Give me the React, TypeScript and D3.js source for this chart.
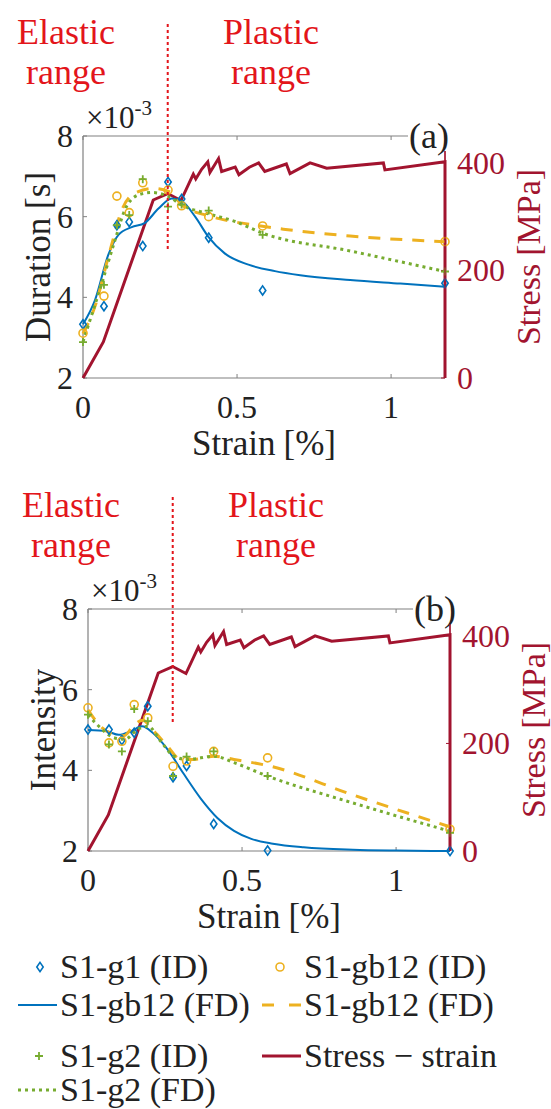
import React from 'react';
import * as d3 from 'd3';

// ---- shared strain axis -------------------------------------------------
const xTicks = [0, 0.5, 1];
const yTicks = [2, 4, 6, 8];
const stressTicks = [0, 200, 400];

// strain positions of the individual measurements (ID markers)
const strainID = [0, 0.068, 0.11, 0.15, 0.194, 0.276, 0.32, 0.408, 0.583, 1.175];

// ---- (a) duration [x10^-3 s] --------------------------------------------
const g1IDa = [3.33, 3.78, 5.79, 5.87, 5.27, 6.86, 6.44, 5.48, 4.17, 4.35];
const gb12IDa = [3.11, 4.03, 6.51, 6.1, 6.84, 6.66, 6.27, 6.0, 5.77, 5.38];
const g2IDa = [2.89, 4.31, 5.79, 6.04, 6.93, 6.25, 6.3, 6.15, 5.55, 4.64];

const g1FDaStrain = [0, 0.039, 0.082, 0.115, 0.158, 0.2, 0.245, 0.288, 0.32, 0.364, 0.407, 0.46, 0.537, 0.623, 0.705, 0.867, 1.03, 1.175];
const g1FDa = [3.33, 3.93, 5.05, 5.55, 5.74, 5.84, 6.2, 6.45, 6.39, 6.0, 5.5, 5.09, 4.81, 4.65, 4.55, 4.43, 4.34, 4.26];

const gb12FDaStrain = [0, 0.04, 0.082, 0.1, 0.125, 0.173, 0.23, 0.28, 0.32, 0.407, 0.472, 0.558, 0.65, 0.867, 1.175];
const gb12FDa = [3.1, 3.8, 5.0, 5.5, 6.15, 6.6, 6.7, 6.62, 6.3, 6.02, 5.9, 5.79, 5.69, 5.52, 5.38];

const g2FDaStrain = [0, 0.061, 0.104, 0.136, 0.18, 0.223, 0.277, 0.32, 0.407, 0.494, 0.58, 0.867, 1.175];
const g2FDa = [2.9, 4.35, 5.42, 6.17, 6.54, 6.6, 6.5, 6.29, 6.07, 5.88, 5.6, 5.15, 4.64];

// ---- (b) intensity [x10^-3] ---------------------------------------------
const g1IDb = [5.01, 5.01, 4.75, 4.93, 5.59, 3.83, 4.11, 2.67, 2.01, 2.0];
const gb12IDb = [5.55, 4.68, 4.72, 5.63, 5.3, 4.1, 4.23, 4.47, 4.31, 2.54];
const g2IDb = [5.38, 4.64, 4.47, 5.52, 5.22, 3.86, 4.34, 4.47, 3.86, 2.45];

const g1FDbStrain = [0, 0.06, 0.1, 0.14, 0.175, 0.21, 0.26, 0.31, 0.366, 0.42, 0.474, 0.53, 0.6, 0.7, 0.86, 1.0, 1.175];
const g1FDb = [5.0, 4.97, 4.88, 4.97, 5.09, 4.93, 4.5, 3.92, 3.3, 2.82, 2.5, 2.3, 2.18, 2.09, 2.03, 2.01, 2.0];

const gb12FDbStrain = [0, 0.041, 0.084, 0.117, 0.149, 0.177, 0.214, 0.258, 0.301, 0.344, 0.409, 0.474, 0.593, 0.856, 1.175];
const gb12FDb = [5.5, 5.09, 4.89, 4.86, 5.12, 5.24, 4.97, 4.6, 4.27, 4.27, 4.35, 4.27, 4.1, 3.4, 2.6];

const g2FDbStrain = [0, 0.041, 0.084, 0.12, 0.16, 0.195, 0.236, 0.279, 0.323, 0.409, 0.474, 0.582, 0.856, 1.175];
const g2FDb = [5.38, 5.05, 4.81, 4.77, 5.01, 5.09, 4.72, 4.35, 4.27, 4.35, 4.19, 3.86, 3.2, 2.49];

// ---- stress-strain curve [MPa] ------------------------------------------
const ssStrain = [0, 0.066, 0.228, 0.275, 0.318, 0.358, 0.366, 0.385, 0.405, 0.412, 0.44, 0.45, 0.494, 0.506, 0.54, 0.57, 0.59, 0.66, 0.672, 0.737, 0.791, 0.975, 0.98, 1.175, 1.175];
const ssStress = [0, 67, 331, 343, 330, 379, 370, 388, 402, 382, 408, 384, 392, 378, 392, 400, 384, 398, 380, 400, 390, 400, 387, 402, 0];

// yield point separating the elastic and plastic ranges
const yieldStrain = 0.275;

const BLUE = '#0072BD';
const ORANGE = '#EDB120';
const GREEN = '#77AC30';
const DARKRED = '#A2142F';
const ANNOT = '#E3151B';
const FONT = "'Liberation Serif', 'Times New Roman', Tinos, 'DejaVu Serif', serif";

const W = 362;
const H = 242;

type Series = { strain: number[]; values: number[] };

type PanelProps = {
  left: number;
  top: number;
  ylabel: string;
  tag: string;
  g1ID: number[];
  gb12ID: number[];
  g2ID: number[];
  g1FD: Series;
  gb12FD: Series;
  g2FD: Series;
};

const diamond = 'M0,-4.6L3.2,0L0,4.6L-3.2,0Z';

function Panel(p: PanelProps) {
  const x = d3.scaleLinear().domain([0, 1.175]).range([p.left, p.left + W]);
  const y = d3.scaleLinear().domain([2, 8]).range([p.top + H, p.top]);
  const ys = d3.scaleLinear().domain([0, 450]).range([p.top + H, p.top]);
  const right = p.left + W;
  const bottom = p.top + H;

  const fdLine = (s: Series) =>
    d3.line<number>()
      .x((_, i) => x(s.strain[i]))
      .y((v) => y(v))
      .curve(d3.curveMonotoneX)(s.values) as string;

  const ssLine = d3.line<number>()
    .x((_, i) => x(ssStrain[i]))
    .y((v) => ys(v))(ssStress) as string;

  return (
    <g>
      {/* elastic / plastic annotation */}
      <text x={p.left - 17} y={p.top - 92} fontSize={36} fill={ANNOT} textAnchor="middle">Elastic</text>
      <text x={p.left - 17} y={p.top - 52} fontSize={36} fill={ANNOT} textAnchor="middle">range</text>
      <text x={p.left + 188} y={p.top - 92} fontSize={36} fill={ANNOT} textAnchor="middle">Plastic</text>
      <text x={p.left + 188} y={p.top - 52} fontSize={36} fill={ANNOT} textAnchor="middle">range</text>

      {/* axes box */}
      <line x1={p.left} y1={p.top} x2={p.left} y2={bottom} stroke="#808080" strokeWidth={1.2} />
      <line x1={p.left} y1={bottom} x2={right} y2={bottom} stroke="#808080" strokeWidth={1.2} />
      <line x1={p.left} y1={p.top} x2={right} y2={p.top} stroke="#808080" strokeWidth={1.2} />
      <line x1={right} y1={p.top} x2={right} y2={bottom} stroke={DARKRED} strokeWidth={1.2} />

      {xTicks.map((t) => (
        <g key={'x' + t}>
          <line x1={x(t)} x2={x(t)} y1={bottom} y2={bottom - 4} stroke="#808080" />
          <line x1={x(t)} x2={x(t)} y1={p.top} y2={p.top + 4} stroke="#808080" />
          <text x={x(t)} y={bottom + 40} fontSize={32} textAnchor="middle" fill="#222">{t}</text>
        </g>
      ))}
      {yTicks.map((t) => (
        <g key={'y' + t}>
          <line x1={p.left} x2={p.left + 4} y1={y(t)} y2={y(t)} stroke="#808080" />
          <text x={p.left - 10} y={y(t) + 11} fontSize={32} textAnchor="end" fill="#222">{t}</text>
        </g>
      ))}
      {stressTicks.map((t) => (
        <g key={'s' + t}>
          <line x1={right} x2={right - 4} y1={ys(t)} y2={ys(t)} stroke={DARKRED} />
          <text x={right + 12} y={ys(t) + 11} fontSize={32} textAnchor="start" fill={DARKRED}>{t}</text>
        </g>
      ))}

      {/* exponent */}
      <text x={p.left + 3} y={p.top - 8} fontSize={31} fill="#222">
        ×10<tspan fontSize={21} dy={-13}>-3</tspan>
      </text>

      {/* axis titles */}
      <text transform={`translate(${p.left - 45},${p.top + H / 2}) rotate(-90)`} fontSize={35} textAnchor="middle" dominantBaseline="central" fill="#222">{p.ylabel}</text>
      <text transform={`translate(${right + 83},${p.top + H / 2}) rotate(-90)`} fontSize={34} textAnchor="middle" dominantBaseline="central" fill={DARKRED}>
        Stress<tspan dx={8}>[MPa]</tspan>
      </text>
      <text x={p.left + W / 2} y={bottom + 77} fontSize={35} textAnchor="middle" fill="#222">
        Strain<tspan dx={8}>[%]</tspan>
      </text>

      {/* stress-strain */}
      <path d={ssLine} fill="none" stroke={DARKRED} strokeWidth={3} strokeLinejoin="miter" />

      {/* fitted distributions */}
      <path d={fdLine(p.g1FD)} fill="none" stroke={BLUE} strokeWidth={2} />
      <path d={fdLine(p.gb12FD)} fill="none" stroke={ORANGE} strokeWidth={3} strokeDasharray="12 10" />
      <path d={fdLine(p.g2FD)} fill="none" stroke={GREEN} strokeWidth={3} strokeDasharray="3 4" />

      {/* individual measurements */}
      {strainID.map((s, i) => (
        <g key={'m' + i}>
          <path d={diamond} transform={`translate(${x(s)},${y(p.g1ID[i])})`} fill="none" stroke={BLUE} strokeWidth={1.6} />
          <circle cx={x(s)} cy={y(p.gb12ID[i])} r={4} fill="none" stroke={ORANGE} strokeWidth={1.6} />
          <path d="M-4,0H4M0,-4V4" transform={`translate(${x(s)},${y(p.g2ID[i])})`} stroke={GREEN} strokeWidth={1.8} />
        </g>
      ))}

      {/* yield marker */}
      <line x1={x(yieldStrain)} x2={x(yieldStrain)} y1={y(5.2)} y2={y(10.8)} stroke={ANNOT} strokeWidth={2} strokeDasharray="3 3" />

      {/* panel tag */}
      <rect x={right - 37} y={p.top - 17} width={45} height={32} fill="#fff" />
      <text x={right - 36} y={p.top + 12} fontSize={36} fill="#222">{p.tag}</text>
      <line x1={right} y1={p.top + 15} x2={right} y2={bottom} stroke={DARKRED} strokeWidth={1.2} />
    </g>
  );
}

function Legend() {
  const rows = [967, 1005, 1056, 1090];
  const fs = 34;
  const t = (xx: number, yy: number, s: string, c = '#222') => (
    <text x={xx} y={yy + 11} fontSize={fs} fill={c}>{s}</text>
  );
  return (
    <g>
      <path d={diamond} transform={`translate(40,${rows[0]})`} fill="none" stroke={BLUE} strokeWidth={1.6} />
      {t(60, rows[0], 'S1-g1 (ID)')}
      <circle cx={280} cy={rows[0]} r={4} fill="none" stroke={ORANGE} strokeWidth={1.6} />
      {t(304, rows[0], 'S1-gb12 (ID)')}

      <line x1={18} x2={57} y1={rows[1]} y2={rows[1]} stroke={BLUE} strokeWidth={2} />
      {t(60, rows[1], 'S1-gb12 (FD)')}
      <line x1={262} x2={301} y1={rows[1]} y2={rows[1]} stroke={ORANGE} strokeWidth={3} strokeDasharray="12 15" />
      {t(304, rows[1], 'S1-gb12 (FD)')}

      <path d="M-4,0H4M0,-4V4" transform={`translate(39,${rows[2]})`} stroke={GREEN} strokeWidth={1.8} />
      {t(60, rows[2], 'S1-g2 (ID)')}
      <line x1={262} x2={301} y1={rows[2]} y2={rows[2]} stroke={DARKRED} strokeWidth={3} />
      {t(304, rows[2], 'Stress − strain')}

      <line x1={18} x2={57} y1={rows[3]} y2={rows[3]} stroke={GREEN} strokeWidth={3} strokeDasharray="3 4" />
      {t(60, rows[3], 'S1-g2 (FD)')}
    </g>
  );
}

export default function App() {
  return (
    <svg
      width={551}
      height={1109}
      style={{ position: 'absolute', left: 0, top: 0, background: '#fff', fontFamily: FONT }}
    >
      <rect width={551} height={1109} fill="#fff" />
      <Panel
        left={83}
        top={136}
        ylabel="Duration [s]"
        tag="(a)"
        g1ID={g1IDa}
        gb12ID={gb12IDa}
        g2ID={g2IDa}
        g1FD={{ strain: g1FDaStrain, values: g1FDa }}
        gb12FD={{ strain: gb12FDaStrain, values: gb12FDa }}
        g2FD={{ strain: g2FDaStrain, values: g2FDa }}
      />
      <Panel
        left={88}
        top={609}
        ylabel="Intensity"
        tag="(b)"
        g1ID={g1IDb}
        gb12ID={gb12IDb}
        g2ID={g2IDb}
        g1FD={{ strain: g1FDbStrain, values: g1FDb }}
        gb12FD={{ strain: gb12FDbStrain, values: gb12FDb }}
        g2FD={{ strain: g2FDbStrain, values: g2FDb }}
      />
      <Legend />
    </svg>
  );
}
